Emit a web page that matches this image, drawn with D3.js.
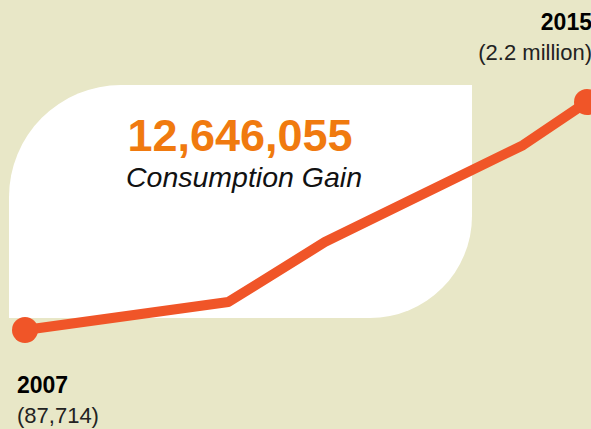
<!DOCTYPE html>
<html>
<head>
<meta charset="utf-8">
<script src="https://cdn.jsdelivr.net/npm/d3@7"></script>
<style>
  html, body { margin: 0; padding: 0; background: #e8e7c7; }
  #graphic { width: 591px; height: 429px; overflow: hidden; }
  text { font-family: "Liberation Sans", Arial, sans-serif; }
</style>
</head>
<body>
<div id="graphic"></div>
<script>
// data
const steps = [0, 2, 2.95, 4.9, 5.53];          // position along the time axis
const values = [87714, 347000, 902000, 1800000, 2200000];
const startLabel = ["2007", "(87,714)"];
const endLabel = ["2015", "(2.2 million)"];
const gainValue = "12,646,055";
const gainText = "Consumption Gain";

const width = 591, height = 429;

const svg = d3.select("#graphic")
  .append("svg")
  .attr("width", width)
  .attr("height", height);

svg.append("rect")
  .attr("width", width)
  .attr("height", height)
  .attr("fill", "#e8e7c7");

const xScale = d3.scaleLinear()
  .domain([0, 5.53])
  .range([25, 587]);

const yScale = d3.scaleLinear()
  .domain([87714, 2200000])
  .range([330, 102]);

// white panel, rounded top-left and bottom-right
const box = { x0: 9, y0: 85, x1: 472, y1: 318 };
const p = d3.path();
p.moveTo(box.x0, box.y1);
p.lineTo(box.x0, box.y0 + 112);
p.arcTo(box.x0, box.y0, box.x0 + 112, box.y0, 112);
p.lineTo(box.x1, box.y0);
p.lineTo(box.x1, box.y1 - 102);
p.arcTo(box.x1, box.y1, box.x1 - 102, box.y1, 102);
p.closePath();

svg.append("path")
  .attr("d", p.toString())
  .attr("fill", "#ffffff");

// headline
svg.append("text")
  .attr("x", 240)
  .attr("y", 151)
  .attr("text-anchor", "middle")
  .attr("font-size", 45)
  .attr("font-weight", "bold")
  .attr("fill", "#f07a0f")
  .text(gainValue);

svg.append("text")
  .attr("x", 244)
  .attr("y", 187)
  .attr("text-anchor", "middle")
  .attr("font-size", 28.5)
  .attr("font-style", "italic")
  .attr("fill", "#111")
  .text(gainText);

// line
const points = steps.map((s, i) => [s, values[i]]);

const line = d3.line()
  .x(d => xScale(d[0]))
  .y(d => yScale(d[1]));

svg.append("path")
  .datum(points)
  .attr("d", line)
  .attr("fill", "none")
  .attr("stroke", "#f05528")
  .attr("stroke-width", 10)
  .attr("stroke-linejoin", "round");

svg.selectAll("circle.end")
  .data([points[0], points[points.length - 1]])
  .enter()
  .append("circle")
  .attr("class", "end")
  .attr("cx", d => xScale(d[0]))
  .attr("cy", d => yScale(d[1]))
  .attr("r", 13)
  .attr("fill", "#f05528");

// end labels
svg.append("text")
  .attr("x", 17).attr("y", 393)
  .attr("font-size", 23).attr("font-weight", "bold").attr("fill", "#000")
  .text(startLabel[0]);
svg.append("text")
  .attr("x", 17).attr("y", 423)
  .attr("font-size", 22).attr("fill", "#222")
  .text(startLabel[1]);

svg.append("text")
  .attr("x", 592).attr("y", 30)
  .attr("text-anchor", "end")
  .attr("font-size", 23).attr("font-weight", "bold").attr("fill", "#000")
  .text(endLabel[0]);
svg.append("text")
  .attr("x", 592).attr("y", 60)
  .attr("text-anchor", "end")
  .attr("font-size", 22).attr("fill", "#222")
  .text(endLabel[1]);
</script>
</body>
</html>
